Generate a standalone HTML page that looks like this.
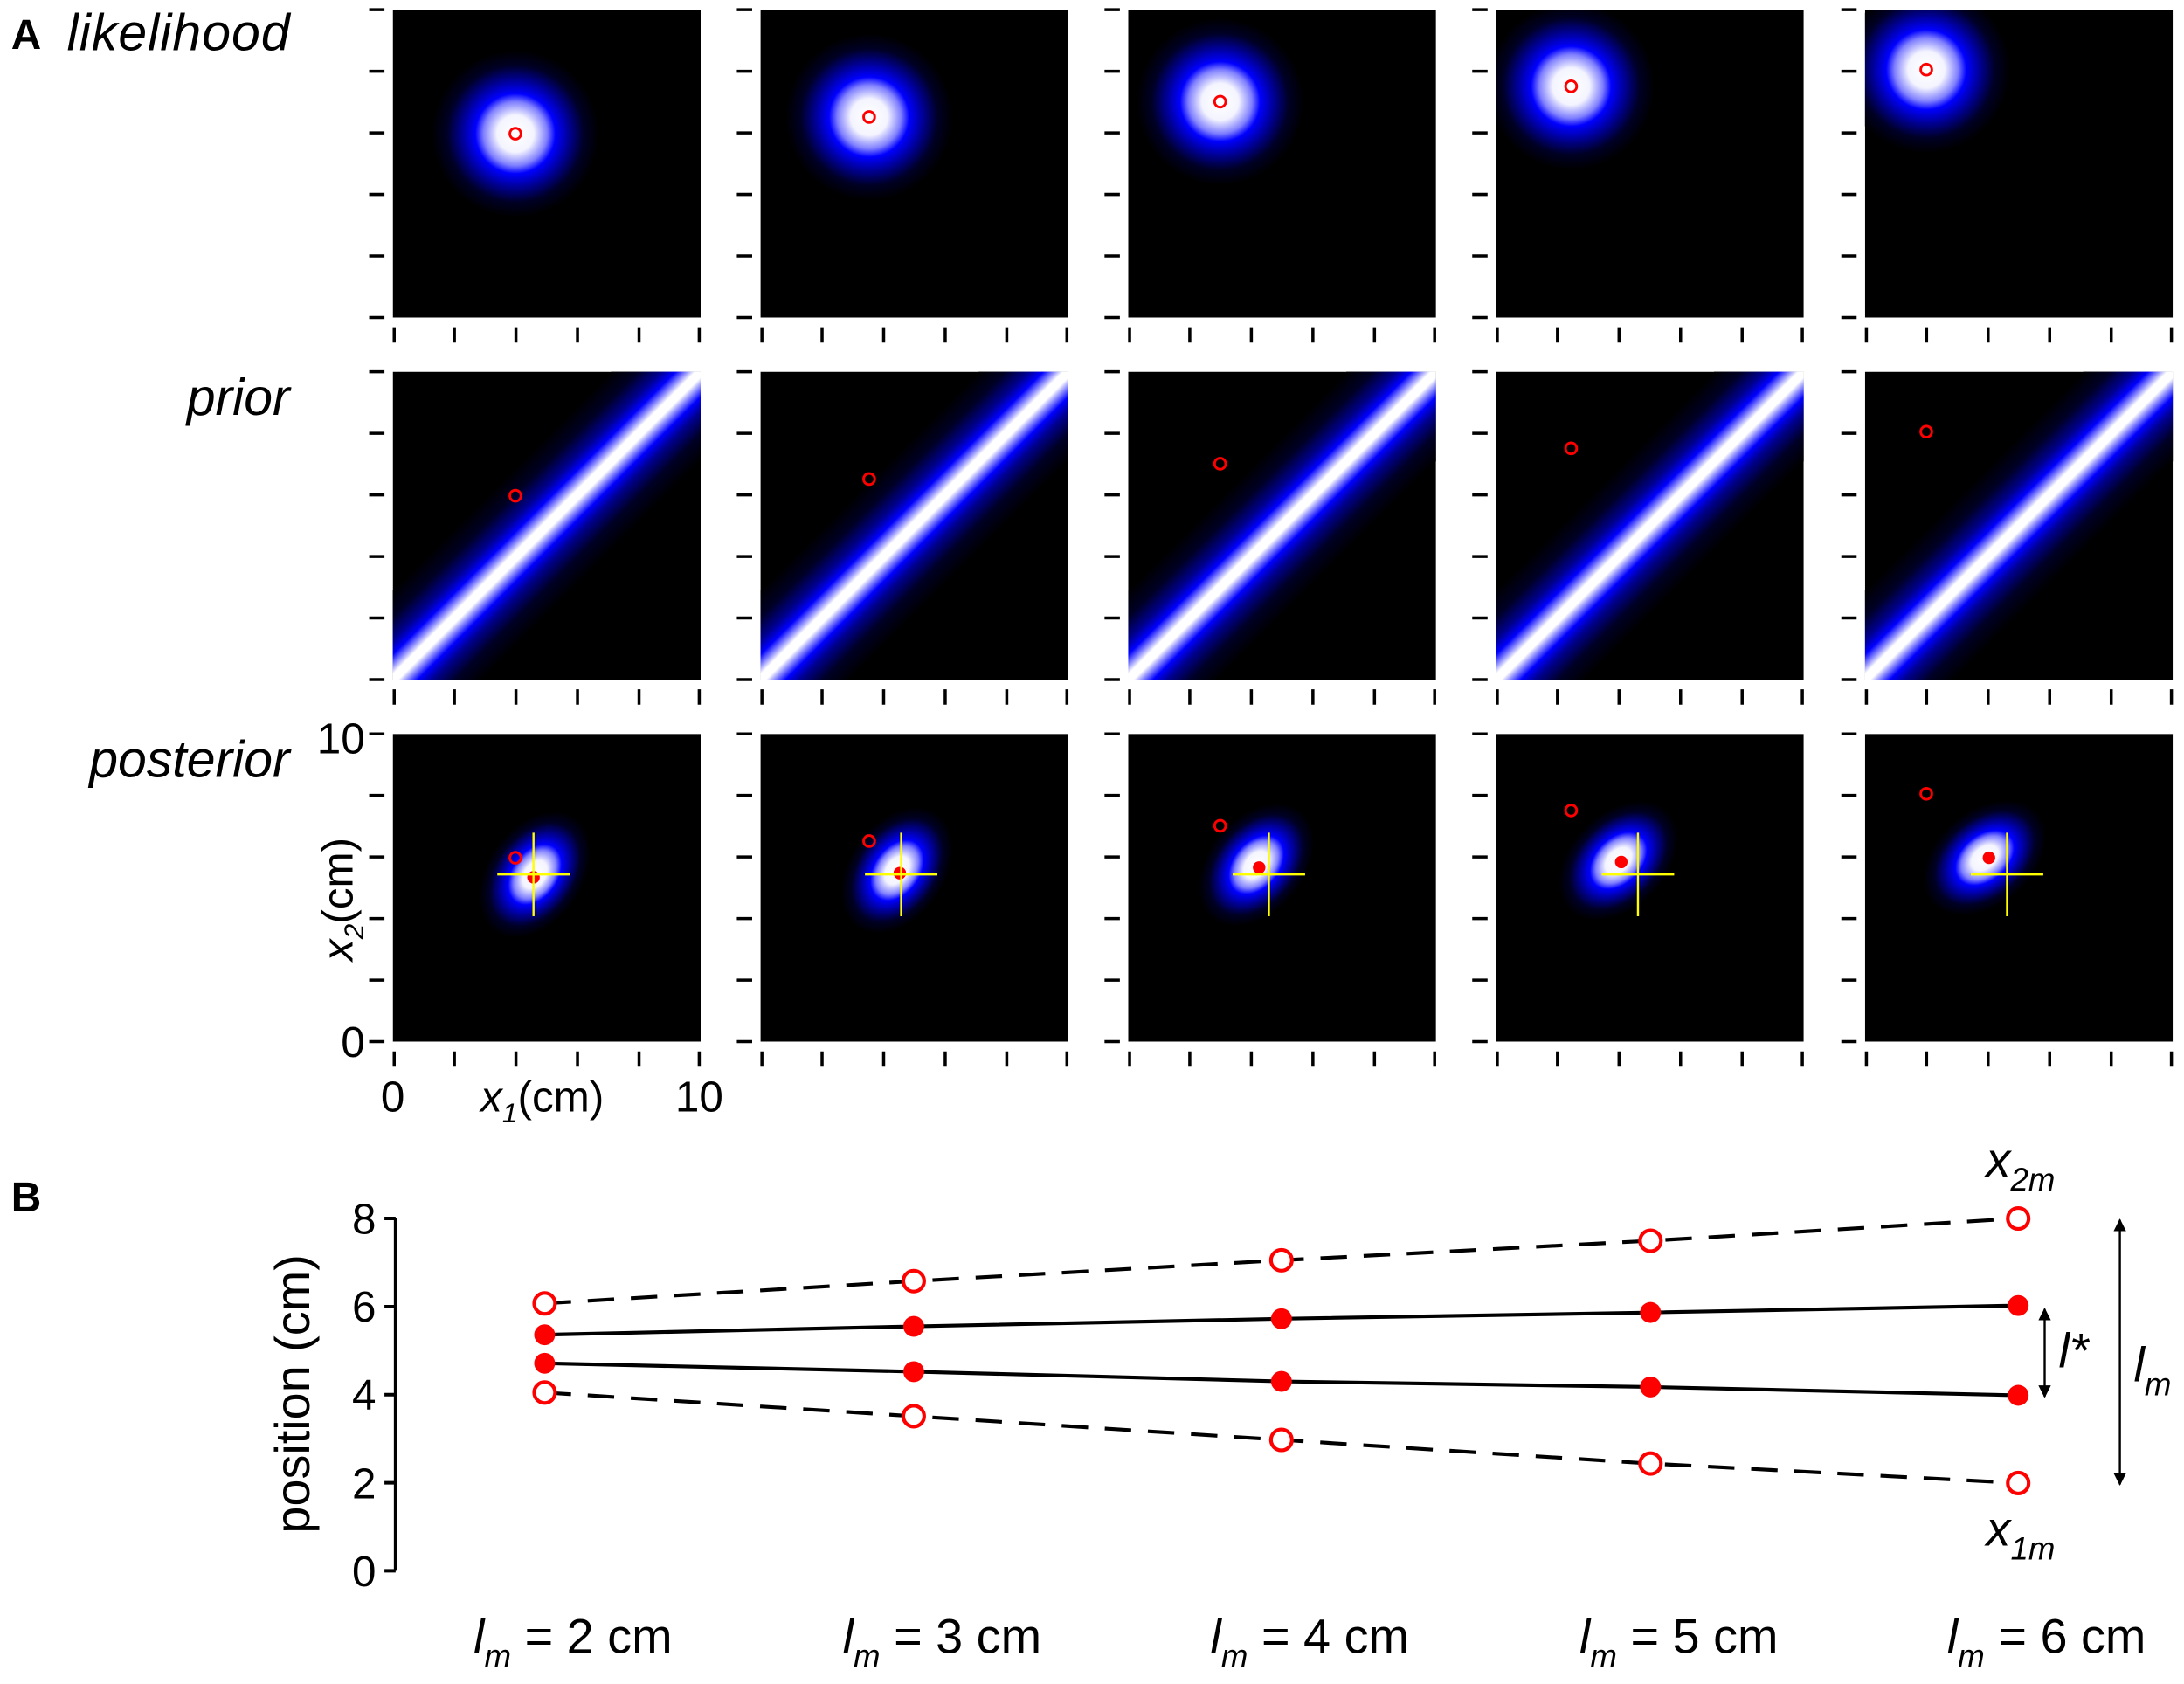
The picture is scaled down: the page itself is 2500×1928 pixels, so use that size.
<!DOCTYPE html>
<html><head><meta charset="utf-8"><style>html,body{margin:0;padding:0;background:#fff}svg{display:block}</style></head>
<body>
<svg xmlns="http://www.w3.org/2000/svg" xmlns:xlink="http://www.w3.org/1999/xlink" width="2500" height="1928" viewBox="0 0 1568 1209.3" font-family="Liberation Sans, Arial, sans-serif">
<defs>
<radialGradient id="rg">
<stop offset="0" stop-color="#fff"/><stop offset="0.22" stop-color="#f4f4ff"/><stop offset="0.38" stop-color="#8080ff"/><stop offset="0.48" stop-color="#0000ff"/><stop offset="0.65" stop-color="#000090"/><stop offset="0.82" stop-color="#000025"/><stop offset="1" stop-color="#000"/>
</radialGradient>
<linearGradient id="lg" x1="0" y1="0" x2="0" y2="1">
<stop offset="0" stop-color="#000"/><stop offset="0.15" stop-color="#000025"/><stop offset="0.28" stop-color="#000090"/><stop offset="0.36" stop-color="#0000ff"/><stop offset="0.43" stop-color="#a0a0ff"/><stop offset="0.47" stop-color="#fff"/><stop offset="0.53" stop-color="#fff"/><stop offset="0.57" stop-color="#a0a0ff"/><stop offset="0.64" stop-color="#0000ff"/><stop offset="0.72" stop-color="#000090"/><stop offset="0.85" stop-color="#000025"/><stop offset="1" stop-color="#000"/>
</linearGradient>
<g id="tk"><path d="M-17,0H-6M-17,44.2H-6M-17,88.4H-6M-17,132.6H-6M-17,176.8H-6M-17,221H-6M1,228V239M44.2,228V239M88.4,228V239M132.6,228V239M176.8,228V239M220,228V239" stroke="#000" stroke-width="2.2" fill="none"/></g>
<g id="prior" stroke="none"><rect width="221" height="221" fill="#000" stroke="none"/><rect x="-100" y="65" width="421" height="91" fill="url(#lg)" stroke="none" transform="rotate(-45 110.5 110.5)"/></g>
<marker id="ah" viewBox="0 0 10 10" refX="9" refY="5" markerWidth="6" markerHeight="6" orient="auto-start-reverse"><path d="M0,0L10,5L0,10z" fill="#000"/></marker>
</defs>

<text x="8" y="35" font-size="30" font-weight="bold">A</text>
<text x="48" y="36" font-size="37" font-style="italic" textLength="160">likelihood</text>
<text x="208" y="298" font-size="37" font-style="italic" text-anchor="end">prior</text>
<text x="208" y="558" font-size="37" font-style="italic" text-anchor="end">posterior</text>

<use xlink:href="#tk" x="282" y="7"/><use xlink:href="#tk" x="546" y="7"/><use xlink:href="#tk" x="810" y="7"/><use xlink:href="#tk" x="1074" y="7"/><use xlink:href="#tk" x="1339" y="7"/>
<use xlink:href="#tk" x="282" y="267"/><use xlink:href="#tk" x="546" y="267"/><use xlink:href="#tk" x="810" y="267"/><use xlink:href="#tk" x="1074" y="267"/><use xlink:href="#tk" x="1339" y="267"/>
<use xlink:href="#tk" x="282" y="527"/><use xlink:href="#tk" x="546" y="527"/><use xlink:href="#tk" x="810" y="527"/><use xlink:href="#tk" x="1074" y="527"/><use xlink:href="#tk" x="1339" y="527"/>

<g fill="none" stroke="#f00" stroke-width="1.8">
<svg x="282" y="7" width="221" height="221"><rect width="221" height="221" fill="#000" stroke="none"/><circle cx="88" cy="89" r="60" fill="url(#rg)" stroke="none"/><circle cx="88" cy="89" r="4"/></svg>
<svg x="546" y="7" width="221" height="221"><rect width="221" height="221" fill="#000" stroke="none"/><circle cx="78" cy="77" r="60" fill="url(#rg)" stroke="none"/><circle cx="78" cy="77" r="4"/></svg>
<svg x="810" y="7" width="221" height="221"><rect width="221" height="221" fill="#000" stroke="none"/><circle cx="66" cy="66" r="60" fill="url(#rg)" stroke="none"/><circle cx="66" cy="66" r="4"/></svg>
<svg x="1074" y="7" width="221" height="221"><rect width="221" height="221" fill="#000" stroke="none"/><circle cx="54" cy="55" r="60" fill="url(#rg)" stroke="none"/><circle cx="54" cy="55" r="4"/></svg>
<svg x="1339" y="7" width="221" height="221"><rect width="221" height="221" fill="#000" stroke="none"/><circle cx="44" cy="43" r="60" fill="url(#rg)" stroke="none"/><circle cx="44" cy="43" r="4"/></svg>

<svg x="282" y="267" width="221" height="221"><use xlink:href="#prior" stroke="none"/><circle cx="88" cy="89" r="4"/></svg>
<svg x="546" y="267" width="221" height="221"><use xlink:href="#prior" stroke="none"/><circle cx="78" cy="77" r="4"/></svg>
<svg x="810" y="267" width="221" height="221"><use xlink:href="#prior" stroke="none"/><circle cx="66" cy="66" r="4"/></svg>
<svg x="1074" y="267" width="221" height="221"><use xlink:href="#prior" stroke="none"/><circle cx="54" cy="55" r="4"/></svg>
<svg x="1339" y="267" width="221" height="221"><use xlink:href="#prior" stroke="none"/><circle cx="44" cy="43" r="4"/></svg>

<svg x="282" y="527" width="221" height="221"><rect width="221" height="221" fill="#000" stroke="none"/><ellipse cx="102" cy="101" rx="50" ry="34" fill="url(#rg)" stroke="none" transform="rotate(-55 102 101)"/><circle cx="88" cy="89" r="4"/><circle cx="101" cy="103" r="4.5" fill="#f00" stroke="none"/><path d="M75,101H127M101,71V131" stroke="#ff0" stroke-width="1.5"/></svg>
<svg x="546" y="527" width="221" height="221"><rect width="221" height="221" fill="#000" stroke="none"/><ellipse cx="98" cy="98" rx="50" ry="34" fill="url(#rg)" stroke="none" transform="rotate(-55 98 98)"/><circle cx="78" cy="77" r="4"/><circle cx="100" cy="100" r="4.5" fill="#f00" stroke="none"/><path d="M75,101H127M101,71V131" stroke="#ff0" stroke-width="1.5"/></svg>
<svg x="810" y="527" width="221" height="221"><rect width="221" height="221" fill="#000" stroke="none"/><ellipse cx="92" cy="94" rx="50" ry="34" fill="url(#rg)" stroke="none" transform="rotate(-50 92 94)"/><circle cx="66" cy="66" r="4"/><circle cx="94" cy="96" r="4.5" fill="#f00" stroke="none"/><path d="M75,101H127M101,71V131" stroke="#ff0" stroke-width="1.5"/></svg>
<svg x="1074" y="527" width="221" height="221"><rect width="221" height="221" fill="#000" stroke="none"/><ellipse cx="88" cy="91" rx="50" ry="34" fill="url(#rg)" stroke="none" transform="rotate(-45 88 91)"/><circle cx="54" cy="55" r="4"/><circle cx="90" cy="92" r="4.5" fill="#f00" stroke="none"/><path d="M76,101H128M102,71V131" stroke="#ff0" stroke-width="1.5"/></svg>
<svg x="1339" y="527" width="221" height="221"><rect width="221" height="221" fill="#000" stroke="none"/><ellipse cx="86" cy="89" rx="50" ry="34" fill="url(#rg)" stroke="none" transform="rotate(-40 86 89)"/><circle cx="44" cy="43" r="4"/><circle cx="89" cy="89" r="4.5" fill="#f00" stroke="none"/><path d="M76,101H128M102,71V131" stroke="#ff0" stroke-width="1.5"/></svg>
</g>

<g font-size="31">
<text x="262" y="541" text-anchor="end">10</text>
<text x="262" y="759" text-anchor="end">0</text>
<text x="282" y="798" text-anchor="middle">0</text>
<text x="502" y="798" text-anchor="middle">10</text>
<text x="345" y="798" font-style="italic">x<tspan font-size="20" dy="8">1</tspan><tspan dy="-8" font-style="normal">(cm)</tspan></text>
<text transform="translate(253 690) rotate(-90)" font-style="italic">x<tspan font-size="20" dy="8">2</tspan><tspan dy="-8" font-style="normal">(cm)</tspan></text>
</g>

<text x="8" y="870" font-size="30" font-weight="bold">B</text>
<path d="M284,875V1128M276,875H284M276,938.3H284M276,1001.5H284M276,1064.8H284M276,1128H284" stroke="#000" stroke-width="2.5" fill="none"/>
<g font-size="31" text-anchor="end">
<text x="270" y="886">8</text><text x="270" y="949">6</text><text x="270" y="1012">4</text><text x="270" y="1076">2</text><text x="270" y="1139">0</text>
</g>
<text transform="translate(222 1001) rotate(-90)" font-size="35" text-anchor="middle">position (cm)</text>

<g stroke="#000" stroke-width="2.6" fill="none">
<path d="M391,958.5L656,952.5L920,947L1185,942.5L1449,937.5"/>
<path d="M391,979L656,985L920,992L1185,996L1449,1002"/>
<path d="M391,936L656,920L920,905L1185,891L1449,875" stroke-dasharray="19,12"/>
<path d="M391,1000L656,1017L920,1034L1185,1051L1449,1065" stroke-dasharray="19,12"/>
</g>
<g fill="#f00">
<circle cx="391" cy="958.5" r="7.5"/><circle cx="656" cy="952.5" r="7.5"/><circle cx="920" cy="947" r="7.5"/><circle cx="1185" cy="942.5" r="7.5"/><circle cx="1449" cy="937.5" r="7.5"/>
<circle cx="391" cy="979" r="7.5"/><circle cx="656" cy="985" r="7.5"/><circle cx="920" cy="992" r="7.5"/><circle cx="1185" cy="996" r="7.5"/><circle cx="1449" cy="1002" r="7.5"/>
</g>
<g fill="#fff" stroke="#f00" stroke-width="2.6">
<circle cx="391" cy="936" r="7.5"/><circle cx="656" cy="920" r="7.5"/><circle cx="920" cy="905" r="7.5"/><circle cx="1185" cy="891" r="7.5"/><circle cx="1449" cy="875" r="7.5"/>
<circle cx="391" cy="1000" r="7.5"/><circle cx="656" cy="1017" r="7.5"/><circle cx="920" cy="1034" r="7.5"/><circle cx="1185" cy="1051" r="7.5"/><circle cx="1449" cy="1065" r="7.5"/>
</g>
<g stroke="#000" stroke-width="1.5" marker-start="url(#ah)" marker-end="url(#ah)">
<line x1="1522" y1="876" x2="1522" y2="1066"/>
<line x1="1468" y1="940" x2="1468" y2="1003"/>
</g>
<g font-style="italic" font-size="35">
<text x="1478" y="982">l*</text>
<text x="1532" y="992">l<tspan font-size="23" dy="10">m</tspan></text>
<text x="1426" y="845">x<tspan font-size="23" dy="10">2m</tspan></text>
<text x="1426" y="1110">x<tspan font-size="23" dy="10">1m</tspan></text>
</g>
<g font-size="35">
<text x="340" y="1187"><tspan font-style="italic">l</tspan><tspan font-size="23" dy="10" font-style="italic">m</tspan><tspan dy="-10"> = 2 cm</tspan></text>
<text x="605" y="1187"><tspan font-style="italic">l</tspan><tspan font-size="23" dy="10" font-style="italic">m</tspan><tspan dy="-10"> = 3 cm</tspan></text>
<text x="869" y="1187"><tspan font-style="italic">l</tspan><tspan font-size="23" dy="10" font-style="italic">m</tspan><tspan dy="-10"> = 4 cm</tspan></text>
<text x="1134" y="1187"><tspan font-style="italic">l</tspan><tspan font-size="23" dy="10" font-style="italic">m</tspan><tspan dy="-10"> = 5 cm</tspan></text>
<text x="1398" y="1187"><tspan font-style="italic">l</tspan><tspan font-size="23" dy="10" font-style="italic">m</tspan><tspan dy="-10"> = 6 cm</tspan></text>
</g>
</svg>
</body></html>
